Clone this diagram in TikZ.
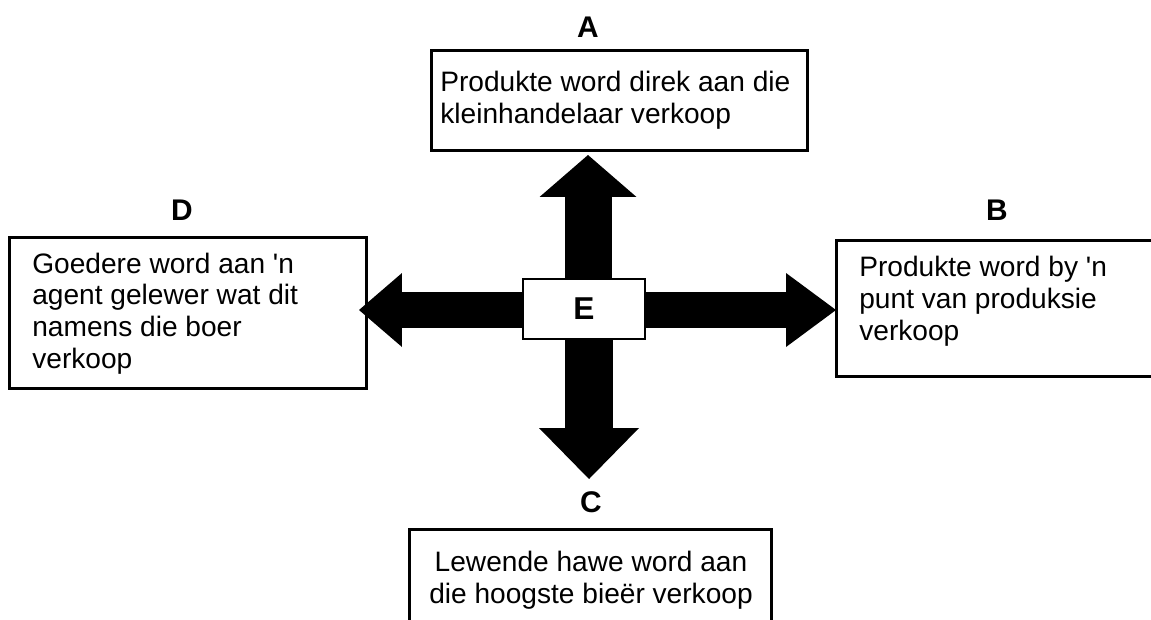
\documentclass[tikz,border=0pt]{standalone}
\usepackage{fontspec}
\setmainfont{Liberation Sans}
\usetikzlibrary{arrows.meta}

\tikzset{
  box/.style={draw, line width=1.8pt, inner sep=0pt, anchor=north west},
  boxtext/.style={inner sep=0pt, align=left, font=\fontsize{16}{18}\selectfont},
  letter/.style={inner sep=0pt, font=\fontsize{17}{18}\selectfont\bfseries},
  fatarrow/.style n args={3}{line width=#1, -{Triangle[length=#2, width=#3, line width=0pt]}}
}

\begin{document}
\begin{tikzpicture}[x=0.02cm, y=-0.02cm]
    \useasboundingbox (0, 0) rectangle (1151, 619);
    \clip (0, 0) rectangle (1151, 619);

    % Centre
    \path (584, 309) coordinate (c);

    % Boxes
    \node [box, minimum width=7.52cm, minimum height=2cm] (boxA) at (430, 49) {};
    \node [box, minimum width=6.8cm, minimum height=2.72cm] (boxB) at (835, 239) {};
    \node [box, minimum width=7.24cm, minimum height=2.4cm] (boxC) at (408, 528) {};
    \node [box, minimum width=7.14cm, minimum height=3.02cm] (boxD) at (8, 236) {};

    % Tips
    \path (588, 155) coordinate (tipA);
    \path (836, 310) coordinate (tipB);
    \path (589, 479) coordinate (tipC);
    \path (359, 310) coordinate (tipD);

    % Arrows
    \draw [fatarrow={0.94cm}{0.84cm}{1.94cm}] (tipA |- c) -- (tipA);
    \draw [fatarrow={0.96cm}{1.02cm}{2cm}] (tipC |- c) -- (tipC);
    \draw [fatarrow={0.72cm}{0.86cm}{1.48cm}] (c |- tipD) -- (tipD);
    \draw [fatarrow={0.72cm}{1cm}{1.48cm}] (c |- tipB) -- (tipB);

    % Middle
    \node [draw, fill=white, line width=1.6pt, minimum width=2.44cm, minimum height=1.2cm,
      font=\fontsize{18}{18}\selectfont\bfseries] (E) at (c) {E};

    % Letters
    \node [letter] (labA) at (588, 27) {A};
    \node [letter] (labB) at (997, 210) {B};
    \node [letter] (labC) at (591, 502) {C};
    \node [letter] (labD) at (182, 210) {D};

    % Texts (base = last line)
    \node [boxtext, anchor=base west] (txtA) at (440, 123) {Produkte word direk aan die\\kleinhandelaar verkoop};
    \node [boxtext, anchor=base west] (txtB) at (859, 340) {Produkte word by \textquotesingle n\\punt van produksie\\verkoop};
    \node [boxtext, anchor=base, align=center] (txtC) at (591, 603) {Lewende hawe word aan\\die hoogste bieër verkoop};
    \node [boxtext, anchor=base west] (txtD) at (32, 368) {Goedere word aan \textquotesingle n\\agent gelewer wat dit\\namens die boer\\verkoop};
\end{tikzpicture}
\end{document}
